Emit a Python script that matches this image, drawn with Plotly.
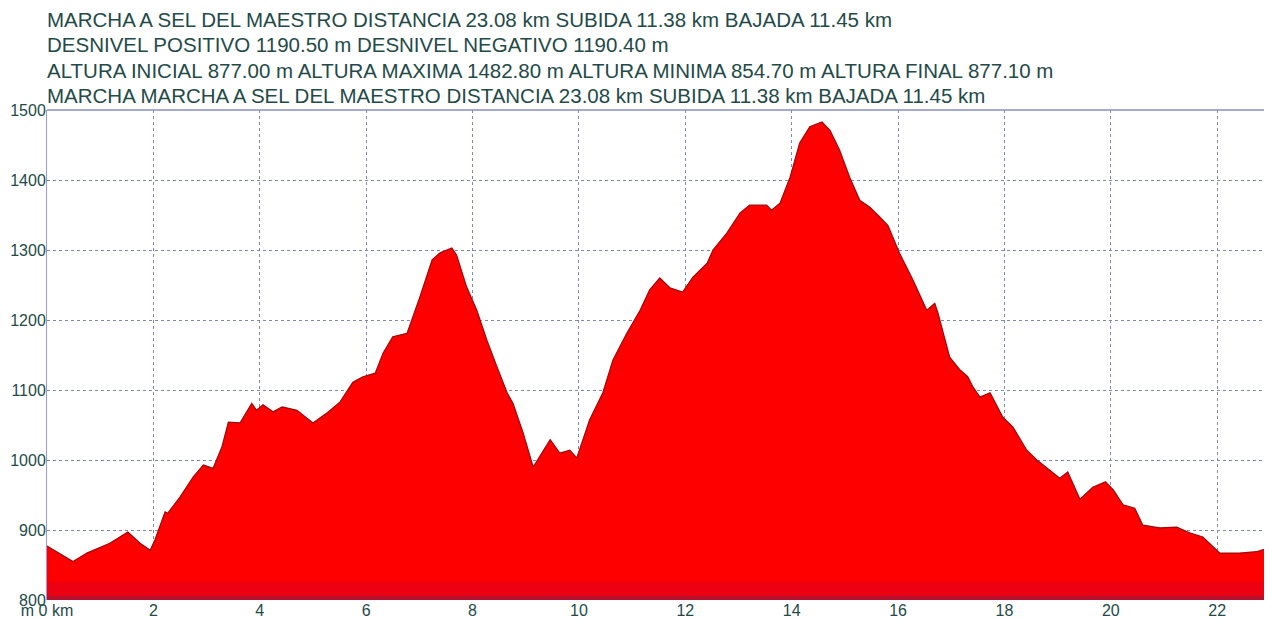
import plotly.graph_objects as go

# Distance (km) and elevation (m) read from the profile
dist_km = [0.00, 0.20, 0.49, 0.75, 1.18, 1.52, 1.75, 1.94, 2.03, 2.22, 2.27, 2.50, 2.75, 2.94,
           3.12, 3.29, 3.41, 3.63, 3.85, 3.94, 4.06, 4.25, 4.42, 4.70, 5.00, 5.26, 5.51, 5.75,
           5.94, 6.17, 6.32, 6.50, 6.77, 7.01, 7.24, 7.39, 7.61, 7.70, 7.89, 8.08, 8.27, 8.46,
           8.65, 8.76, 8.95, 9.14, 9.30, 9.46, 9.64, 9.83, 9.96, 10.20, 10.45, 10.64, 10.90,
           11.15, 11.33, 11.52, 11.71, 11.95, 12.14, 12.41, 12.52, 12.78, 13.03, 13.21, 13.53,
           13.62, 13.78, 13.97, 14.15, 14.34, 14.57, 14.72, 14.90, 15.09, 15.28, 15.47, 15.66,
           15.81, 16.03, 16.28, 16.54, 16.69, 16.75, 16.97, 17.16, 17.31, 17.41, 17.54, 17.73,
           17.97, 18.16, 18.42, 18.61, 18.85, 19.04, 19.19, 19.42, 19.66, 19.90, 20.05, 20.23,
           20.45, 20.60, 20.92, 21.24, 21.48, 21.73, 22.05, 22.42, 22.74, 23.08]
elev_m = [877, 868, 855, 867, 881, 897, 881, 871, 886, 926, 924, 947, 976, 993,
          988, 1019, 1054, 1053, 1081, 1071, 1079, 1069, 1076, 1071, 1053, 1067, 1083, 1111,
          1119, 1124, 1153, 1176, 1181, 1233, 1286, 1296, 1303, 1293, 1247, 1214, 1171, 1133,
          1096, 1081, 1039, 990, 1010, 1029, 1010, 1014, 1003, 1057, 1096, 1143, 1181,
          1214, 1243, 1260, 1246, 1240, 1261, 1281, 1300, 1324, 1353, 1364, 1364,
          1357, 1367, 1404, 1453, 1476, 1482.8, 1471, 1443, 1404, 1371, 1361, 1347,
          1335, 1295, 1257, 1214, 1224, 1210, 1147, 1129, 1119, 1104, 1090, 1096,
          1061, 1047, 1014, 1000, 986, 974, 983, 944, 961, 969, 957, 936,
          931, 907, 903, 904, 896, 890, 867, 867, 869, 877.1]

x_ticks = [0, 2, 4, 6, 8, 10, 12, 14, 16, 18, 20, 22]
x_tick_labels = ["m 0 km", "2", "4", "6", "8", "10", "12", "14", "16", "18", "20", "22"]
y_ticks = [800, 900, 1000, 1100, 1200, 1300, 1400, 1500]

title_lines = [
    "MARCHA A SEL DEL MAESTRO DISTANCIA 23.08 km SUBIDA 11.38 km BAJADA 11.45 km",
    "DESNIVEL POSITIVO 1190.50 m DESNIVEL NEGATIVO 1190.40 m",
    "ALTURA INICIAL 877.00 m ALTURA MAXIMA 1482.80 m ALTURA MINIMA 854.70 m ALTURA FINAL 877.10 m",
    "MARCHA MARCHA A SEL DEL MAESTRO DISTANCIA 23.08 km SUBIDA 11.38 km BAJADA 11.45 km",
]
title_y = [1.184, 1.133, 1.080, 1.029]

text_color = "#244a48"
font_family = "Liberation Sans, Arial, sans-serif"

fig = go.Figure()
fig.add_trace(go.Scatter(
    x=dist_km, y=elev_m, mode="lines", fill="tozeroy",
    fillcolor="#ff0000", line=dict(color="#9a0a0a", width=1.2),
    hoverinfo="skip", showlegend=False,
))

# darker base bands
fig.add_shape(type="rect", xref="paper", yref="y", x0=0, x1=1, y0=800, y1=826,
              fillcolor="#ec0012", line=dict(width=0), layer="above")
fig.add_shape(type="rect", xref="paper", yref="y", x0=0, x1=1, y0=800, y1=806,
              fillcolor="#b8102f", line=dict(width=0), layer="above")

for txt, yy in zip(title_lines, title_y):
    fig.add_annotation(text=txt, xref="paper", yref="paper", x=0, y=yy,
                       xanchor="left", yanchor="middle", showarrow=False, xshift=-2,
                       font=dict(family=font_family, size=20.5, color=text_color))

fig.update_xaxes(range=[0, 23.03], tickvals=x_ticks, ticktext=x_tick_labels,
                 showgrid=True, gridcolor="#7f86b0", griddash="dot", gridwidth=1,
                 showline=False, zeroline=False, ticks="", automargin=False,
                 ticklabelstandoff=-1,
                 tickfont=dict(family=font_family, size=16, color=text_color))
fig.update_yaxes(range=[800, 1500], tickvals=y_ticks,
                 showgrid=True, gridcolor="#7f86b0", griddash="dot", gridwidth=1,
                 showline=True, linecolor="#9a9ad8", linewidth=1, mirror=False,
                 zeroline=False, ticks="", automargin=False, ticklabelstandoff=-3,
                 tickfont=dict(family=font_family, size=16, color=text_color))
fig.add_shape(type="line", xref="paper", yref="paper", x0=0, x1=1, y0=1, y1=1,
              line=dict(color="#8a8fb8", width=1.5))

# the page body has an 8px margin, so the figure is offset by 8px
fig.update_layout(
    width=1264, height=613,
    margin=dict(l=39, r=0, t=102, b=21),
    paper_bgcolor="white", plot_bgcolor="white",
)
fig.write_html("out.html")
